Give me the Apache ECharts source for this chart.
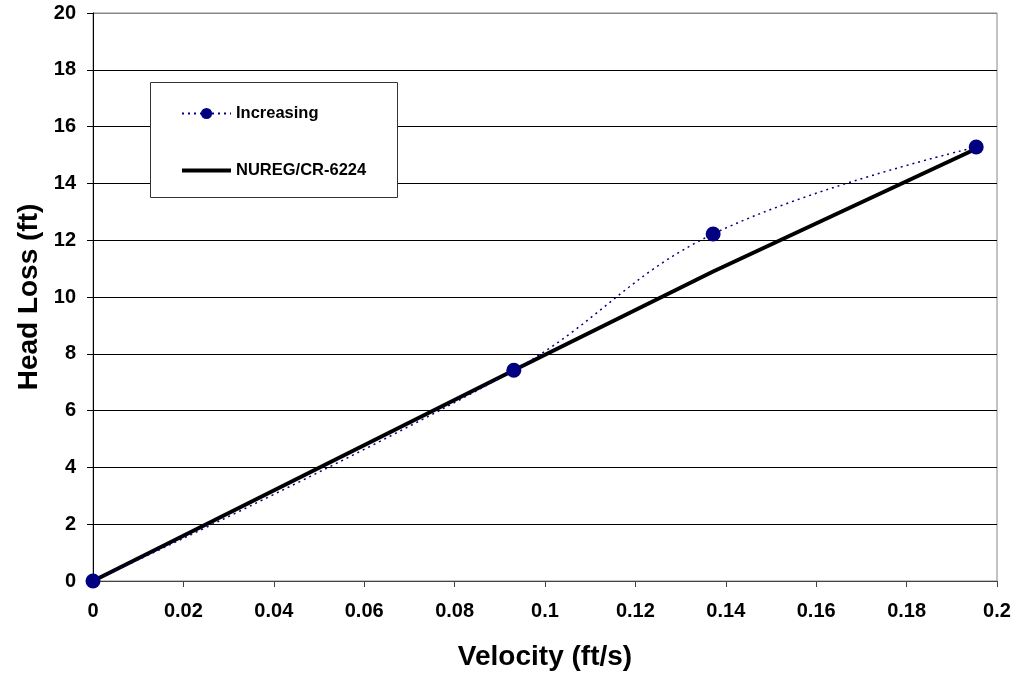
<!DOCTYPE html>
<html>
<head>
<meta charset="utf-8">
<script src="https://cdn.jsdelivr.net/npm/echarts@6/dist/echarts.min.js"></script>
<style>html,body{margin:0;padding:0;background:#fff}#c{width:1018px;height:676px}</style>
</head>
<body>
<div id="c"></div>
<script>
const velIncreasing = [0, 0.0931, 0.1372, 0.1954];
const headIncreasing = [0, 7.42, 12.22, 15.28];
const velNureg = [0, 0.0931, 0.1372, 0.1954];
const headNureg = [0, 7.42, 10.9, 15.22];
const seriesNames = ['Increasing', 'NUREG/CR-6224'];
const xTitle = 'Velocity (ft/s)';
const yTitle = 'Head Loss (ft)';

const FONT = '"Liberation Sans", Arial, sans-serif';
const pairs = (xs, ys) => xs.map((x, i) => [x, ys[i]]);

const chart = echarts.init(document.getElementById('c'), null, {renderer: 'canvas'});
chart.setOption({
  animation: false,
  backgroundColor: '#fff',
  grid: {left: 93, right: 21, top: 13, bottom: 93, show: true, borderColor: '#888', borderWidth: 1, backgroundColor: 'transparent'},
  xAxis: {
    type: 'value', min: 0, max: 0.2, interval: 0.02,
    name: xTitle, nameLocation: 'middle', nameGap: 62,
    nameTextStyle: {fontFamily: FONT, fontWeight: 'bold', fontSize: 28, color: '#000'},
    axisLine: {show: true, onZero: false, lineStyle: {color: '#444', width: 1}},
    axisTick: {show: true, length: 6, lineStyle: {color: '#444'}},
    axisLabel: {fontFamily: FONT, fontWeight: 'bold', fontSize: 20, color: '#000', margin: 20,
      formatter: v => String(+v.toFixed(2))},
    splitLine: {show: false}
  },
  yAxis: {
    type: 'value', min: 0, max: 20, interval: 2,
    name: yTitle, nameLocation: 'middle', nameGap: 50, nameRotate: 90,
    nameTextStyle: {fontFamily: FONT, fontWeight: 'bold', fontSize: 28, color: '#000'},
    axisLine: {show: true, onZero: false, lineStyle: {color: '#000', width: 1}},
    axisTick: {show: true, length: 6, lineStyle: {color: '#000'}},
    axisLabel: {fontFamily: FONT, fontWeight: 'bold', fontSize: 20, color: '#000', margin: 17},
    splitLine: {show: true, lineStyle: {color: ['#000','#000','#000','#000','#000','#000','#000','#000','#000','#000','#888'], width: 1}}
  },
  graphic: [{
    type: 'rect', left: 150, top: 82, z: 3,
    shape: {width: 247, height: 115},
    style: {fill: '#fff', stroke: '#333', lineWidth: 1}
  }],
  legend: {
    show: true, orient: 'vertical', left: 180, top: 105, z: 5,
    itemGap: 40, itemWidth: 49, itemHeight: 14, padding: 0,
    textStyle: {fontFamily: FONT, fontWeight: 'bold', fontSize: 16.5, color: '#000'},
    data: [
      {name: seriesNames[0]},
      {name: seriesNames[1], itemStyle: {opacity: 0}, lineStyle: {width: 4, color: '#000'}}
    ]
  },
  series: [
    {
      name: seriesNames[0], type: 'line', z: 3,
      data: pairs(velIncreasing, headIncreasing),
      smooth: 0.4,
      symbol: 'circle', symbolSize: 15,
      itemStyle: {color: '#000080'},
      lineStyle: {color: '#000080', width: 1.5, type: [2, 4]}
    },
    {
      name: seriesNames[1], type: 'line', z: 2,
      data: pairs(velNureg, headNureg),
      symbol: 'none', showSymbol: false,
      itemStyle: {color: '#000'},
      lineStyle: {color: '#000', width: 4}
    }
  ]
});
</script>
</body>
</html>
